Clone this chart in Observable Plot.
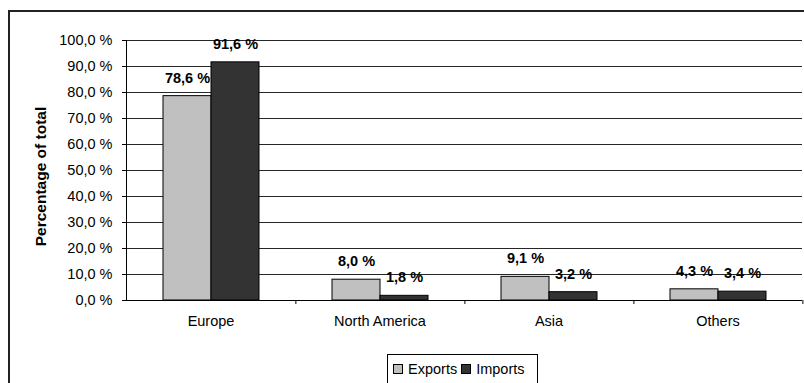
<!DOCTYPE html>
<html>
<head>
<meta charset="utf-8">
<script src="https://cdn.jsdelivr.net/npm/d3@7"></script>
<script src="https://cdn.jsdelivr.net/npm/@observablehq/plot@0.6"></script>
<style>
  html, body { margin: 0; padding: 0; background: #fff; }
  #page { position: relative; width: 804px; height: 383px; overflow: hidden; background: #fff;
          font-family: "Liberation Sans", Arial, sans-serif; }
  #border { position: absolute; left: 8px; top: 10px; width: 900px; height: 500px;
            border: 2px solid #222; box-sizing: border-box; }
  #chart { position: absolute; left: 0; top: 0; }
  #legend { position: absolute; left: 387px; top: 354px; width: 151px; height: 60px;
            border: 1px solid #000; box-sizing: border-box; background: #fff;
            font-size: 14.5px; color: #000; padding: 6px 0 0 5px; white-space: nowrap; }
  .item { display: inline-flex; align-items: center; margin-right: 4px; }
  .sw { display: inline-block; width: 8px; height: 8px; border: 1px solid #000; margin-right: 5px; }
</style>
</head>
<body>
<div id="page">
  <div id="border"></div>
  <div id="chart"></div>
  <div id="legend"></div>
</div>
<script>
const regions = ["Europe", "North America", "Asia", "Others"];
const seriesNames = ["Exports", "Imports"];
const exportsPct = [78.6, 8.0, 9.1, 4.3];
const importsPct = [91.6, 1.8, 3.2, 3.4];
const seriesColors = ["#c0c0c0", "#333333"];
const yTicks = [0, 10, 20, 30, 40, 50, 60, 70, 80, 90, 100];
const yTitle = "Percentage of total";

const data = regions.flatMap((r, i) => [
  {region: r, series: seriesNames[0], value: exportsPct[i]},
  {region: r, series: seriesNames[1], value: importsPct[i]}
]);

const fmt = v => v.toFixed(1).replace(".", ",") + " %";

const W = 804, H = 345, mL = 124, mR = 1, mT = 40, mB = 45;
const step = (W - mL - mR) / regions.length;

const chart = Plot.plot({
  width: W, height: H,
  marginLeft: mL, marginRight: mR, marginTop: mT, marginBottom: mB,
  style: {fontFamily: "'Liberation Sans', Arial, sans-serif", fontSize: "14.5px", background: "transparent", color: "#000", overflow: "visible"},
  fx: {domain: regions, padding: 0, label: null, axis: null},
  x: {domain: seriesNames, paddingInner: 0, paddingOuter: 0.75, axis: null},
  y: {domain: [0, 100], label: null, axis: null},
  color: {domain: seriesNames, range: seriesColors},
  marks: [
    Plot.gridY(yTicks, {stroke: "#000", strokeOpacity: 0.85}),
    Plot.axisY(yTicks, {tickSize: 4, tickPadding: 10, tickFormat: fmt, label: null, strokeOpacity: 1}),
    Plot.text([yTitle], {text: d => d, frameAnchor: "left", textAnchor: "middle", rotate: -90, dx: -85, dy: 6, fontSize: 15.5, fontWeight: "bold", facetAnchor: "left"}),
    Plot.axisFx({anchor: "bottom", tickSize: 0, tickPadding: 15, label: null}),
    Plot.axisFx({anchor: "bottom", tickSize: 4, tickFormat: () => "", dx: step / 2, label: null}),
    Plot.frame({anchor: "left", facetAnchor: "left"}),
    Plot.ruleY([0]),
    Plot.barY(data, {fx: "region", x: "series", y: "value", fill: "series", stroke: "#000", strokeWidth: 1}),
    Plot.text(data, {fx: "region", x: "series", y: "value", text: d => fmt(d.value), dy: -18, fontWeight: "bold"})
  ]
});
document.getElementById("chart").appendChild(chart);

const legend = document.getElementById("legend");
seriesNames.forEach((s, i) => {
  const item = document.createElement("span");
  item.className = "item";
  const sw = document.createElement("span");
  sw.className = "sw";
  sw.style.background = seriesColors[i];
  item.appendChild(sw);
  item.appendChild(document.createTextNode(s));
  legend.appendChild(item);
});
</script>
</body>
</html>
